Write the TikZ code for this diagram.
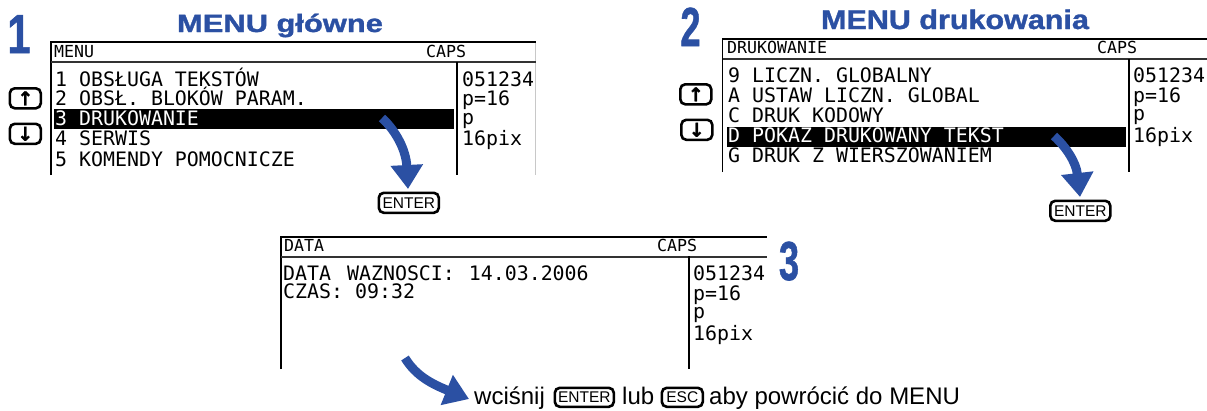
\documentclass[tikz,border=0pt]{standalone}
\usepackage{graphicx}
\usepackage{fontspec}
\usetikzlibrary{arrows.meta}
\setmainfont{Liberation Sans}
\newfontfamily\lcdfont{DejaVu Sans Mono}
\newfontfamily\blk[BoldFeatures={FakeBold=1.2}]{Liberation Sans}
\newfontfamily\symf[BoldFeatures={FakeBold=1.5}]{DejaVu Sans}
\definecolor{mblue}{HTML}{2B50A3}
\definecolor{hair}{HTML}{C8C8C8}
\tikzset{
  lcd/.style={anchor=base west,inner sep=0pt,font=\lcdfont\fontsize{19.9}{24}\selectfont},
  lcdinv/.style={lcd,text=white},
  lcdhead/.style={anchor=base west,inner sep=0pt,font=\lcdfont\fontsize{16.6}{20}\selectfont},
  hlbar/.style={anchor=north west,fill=black,inner sep=0pt,draw=none},
  frameline/.style={draw=black,line width=1.5pt},
  headrule/.style={draw=black!80,line width=2pt},
  hairline/.style={draw=hair,line width=0.8pt},
  keybox/.style={draw=black,line width=2.6pt,rounded corners=5pt,inner sep=0pt,fill=white,anchor=north west},
  keytxt/.style={keybox,font=\fontsize{15.5}{16}\selectfont},
  keyarr/.style={keybox,font=\symf\bfseries\fontsize{19}{20}\selectfont},
  bigarrow/.style={draw=mblue,line width=9pt,-{Triangle[length=24pt,width=31pt,fill=mblue]}},
  titletxt/.style={inner sep=0pt,anchor=base,text=mblue},
  numtxt/.style={inner sep=0pt,anchor=base,text=mblue},
  body/.style={inner sep=0pt,anchor=base west,font=\fontsize{24}{27}\selectfont}
}
\begin{document}
\begin{tikzpicture}[x=1pt,y=-1pt]
\useasboundingbox (0,0) rectangle (1207,410);
% ---- titles and numbers
\node[titletxt] (t1) at (280,32) {\blk\bfseries\fontsize{25}{28}\selectfont\scalebox{1.235}[1]{MENU główne}};
\node[titletxt] (t2) at (955,29) {\blk\bfseries\fontsize{27}{30}\selectfont\scalebox{1.13}[1]{MENU drukowania}};
\node[numtxt] (n1) at (19,53) {\blk\bfseries\fontsize{55}{60}\selectfont\scalebox{0.76}[1]{1}};
\node[numtxt] (n2) at (690.5,46) {\blk\bfseries\fontsize{55}{60}\selectfont\scalebox{0.66}[1]{2}};
\node[numtxt] (n3) at (789,280) {\blk\bfseries\fontsize{55}{60}\selectfont\scalebox{0.66}[1]{3}};
% ---- screen 1
\draw[hairline] (535.5,42) -- (535.5,175);
\draw[frameline] (51,175) -- (51,42) -- (536,42);
\draw[headrule] (51,62) -- (536,62);
\draw[frameline] (457,62) -- (457,175);
\node[hlbar,minimum width=400pt,minimum height=20pt] (bar1) at (54,109) {};
\node[lcdhead] (h1a) at (54,57) {MENU};
\node[lcdhead] (h1b) at (426,57) {CAPS};
\node[lcd] (m1a) at (55,86) {1 OBSŁUGA TEKSTÓW};
\node[lcd] (m1b) at (55,105) {2 OBSŁ. BLOKÓW PARAM.};
\node[lcdinv] (m1c) at (55,125) {3 DRUKOWANIE};
\node[lcd] (m1d) at (55,145) {4 SERWIS};
\node[lcd] (m1e) at (55,166) {5 KOMENDY POMOCNICZE};
\node[lcd] (s1a) at (462,86) {051234};
\node[lcd] (s1b) at (462,105) {p=16};
\node[lcd] (s1c) at (462,124) {p};
\node[lcd] (s1d) at (462,145) {16pix};
\node[keyarr,minimum width=31pt,minimum height=20pt] (up1) at (8.5,87) {↑};
\node[keyarr,minimum width=31pt,minimum height=20pt] (dn1) at (8.5,122.5) {↓};
\node[keytxt,minimum width=60pt,minimum height=20pt] (en1) at (377.5,191.5) {ENTER};
\coordinate (a1s) at (382,118);
\coordinate (a1e) at (408,189);
\draw[bigarrow] (a1s) .. controls (396,131) and (406,150) .. (a1e);
% ---- screen 2
\draw[frameline] (722.5,172) -- (722.5,39) -- (1207,39);
\draw[headrule] (722.5,59) -- (1207,59);
\draw[frameline] (1129,59) -- (1129,172);
\node[hlbar,minimum width=399pt,minimum height=20pt] (bar2) at (727,127) {};
\node[lcdhead] (h2a) at (727,53.5) {DRUKOWANIE};
\node[lcdhead] (h2b) at (1097,53.5) {CAPS};
\node[lcd] (m2a) at (728,82) {9 LICZN. GLOBALNY};
\node[lcd] (m2b) at (728,102) {A USTAW LICZN. GLOBAL};
\node[lcd] (m2c) at (728,122) {C DRUK KODOWY};
\node[lcdinv] (m2d) at (728,142) {D POKAŻ DRUKOWANY TEKST};
\node[lcd] (m2e) at (728,162) {G DRUK Z WIERSZOWANIEM};
\node[lcd] (s2a) at (1133,82) {051234};
\node[lcd] (s2b) at (1133,102) {p=16};
\node[lcd] (s2c) at (1133,120) {p};
\node[lcd] (s2d) at (1133,142) {16pix};
\node[keyarr,minimum width=31pt,minimum height=20pt] (up2) at (679,83) {↑};
\node[keyarr,minimum width=31pt,minimum height=20pt] (dn2) at (680,118.5) {↓};
\node[keytxt,minimum width=60pt,minimum height=20pt] (en2) at (1049,199.5) {ENTER};
\coordinate (a2s) at (1054,136);
\coordinate (a2e) at (1080,197);
\draw[bigarrow] (a2s) .. controls (1066,147) and (1076,162) .. (a2e);
% ---- screen 3
\draw[frameline] (281,369) -- (281,237) -- (767,237);
\draw[headrule] (281,256.5) -- (767,256.5);
\draw[frameline] (689,256) -- (689,369);
\node[lcdhead] (h3a) at (284,251.5) {DATA};
\node[lcdhead] (h3b) at (657,251.5) {CAPS};
\node[lcd] (m3a) at (283,280) {DATA\kern4pt{} WAZNOSCI:\kern2pt{} 14.03.2006};
\node[lcd] (m3b) at (283,298) {CZAS: 09:32};
\node[lcd] (s3a) at (693,280) {051234};
\node[lcd] (s3b) at (693,300) {p=16};
\node[lcd] (s3c) at (693,318) {p};
\node[lcd] (s3d) at (693,340) {16pix};
% ---- bottom line
\coordinate (a3s) at (405,358);
\coordinate (a3e) at (469,399);
\draw[bigarrow] (a3s) .. controls (416,376) and (432,384) .. (a3e);
\node[body] (w1) at (474,404) {wciśnij};
\node[keytxt,minimum width=59pt,minimum height=19pt] (en3) at (553.5,386.5) {ENTER};
\node[body] (w2) at (622,404) {lub};
\node[keytxt,minimum width=41pt,minimum height=19pt] (es3) at (660.5,386.5) {ESC};
\node[body] (w3) at (709,404) {aby powrócić do MENU};
\end{tikzpicture}
\end{document}
